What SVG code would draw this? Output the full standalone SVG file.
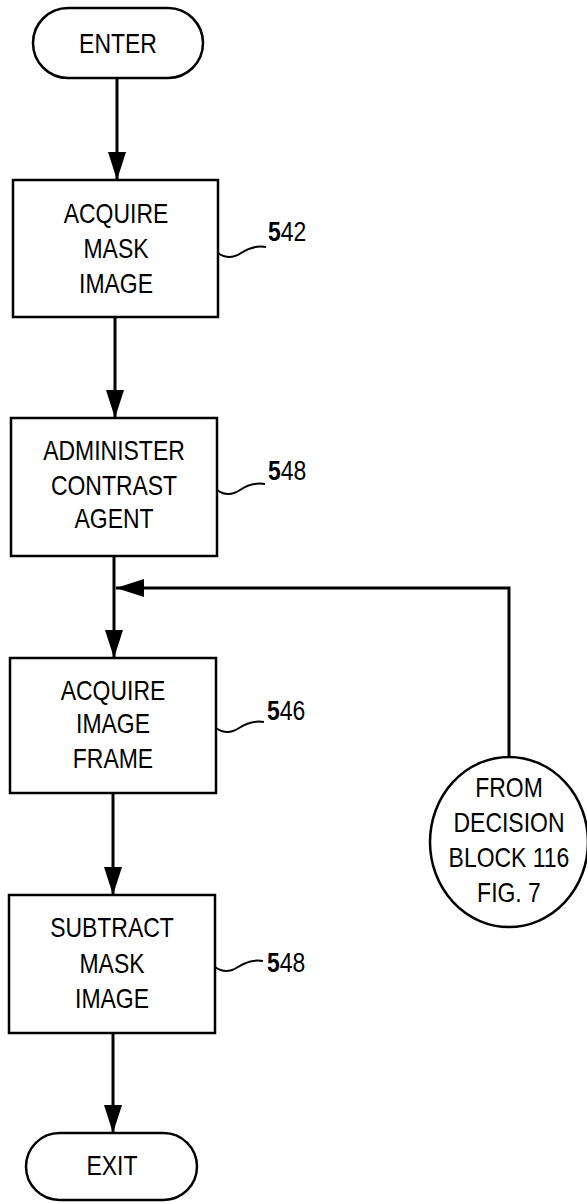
<svg xmlns="http://www.w3.org/2000/svg" width="587" height="1203" viewBox="0 0 587 1203">
<style>
.shape{fill:#fff;stroke:#000;stroke-width:2.5}
.conn{fill:none;stroke:#000;stroke-width:3}
.lead{fill:none;stroke:#000;stroke-width:2}
.t{font-family:"Liberation Sans",Arial,sans-serif;font-size:28px;fill:#000;text-anchor:middle}
.n{font-family:"Liberation Sans",Arial,sans-serif;font-size:28px;fill:#000;text-anchor:start}
</style>
<defs>
<marker id="ah" viewBox="0 0 28 18" refX="28" refY="9" markerWidth="28" markerHeight="18" markerUnits="userSpaceOnUse" orient="auto">
<path d="M0,0 L28,9 L0,18 z" fill="#000"/>
</marker>
</defs>
<rect width="587" height="1203" fill="#fff"/>
<g id="connectors">
<path class="conn" d="M117,78 V180" marker-end="url(#ah)"/>
<path class="conn" d="M115,317 V418" marker-end="url(#ah)"/>
<path class="conn" d="M114,556 V658" marker-end="url(#ah)"/>
<path class="conn" d="M113,793 V895" marker-end="url(#ah)"/>
<path class="conn" d="M113,1033 V1133" marker-end="url(#ah)"/>
<path class="conn" d="M509,757 V588 H116" marker-end="url(#ah)"/>
</g>
<g id="enter">
<rect class="shape" x="33" y="8" width="170" height="70" rx="35" ry="35"/>
<text class="t" transform="translate(118,53) scale(0.82,1)">ENTER</text>
</g>
<g id="acquire-mask">
<rect class="shape" x="13" y="180" width="205" height="137"/>
<text class="t" transform="translate(116,223) scale(0.82,1)">ACQUIRE</text>
<text class="t" transform="translate(116,258) scale(0.82,1)">MASK</text>
<text class="t" transform="translate(116,293) scale(0.82,1)">IMAGE</text>
<path class="lead" d="M218,253 q11,8 23,0 t25,-6"/>
<text class="n" transform="translate(268,241) scale(0.82,1)"><tspan font-weight="bold">5</tspan>42</text>
</g>
<g id="administer">
<rect class="shape" x="11" y="418" width="206" height="138"/>
<text class="t" transform="translate(114,460) scale(0.82,1)">ADMINISTER</text>
<text class="t" transform="translate(114,495) scale(0.82,1)">CONTRAST</text>
<text class="t" transform="translate(114,528) scale(0.82,1)">AGENT</text>
<path class="lead" d="M217,490 q11,8 23,0 t25,-6"/>
<text class="n" transform="translate(268,480) scale(0.82,1)"><tspan font-weight="bold">5</tspan>48</text>
</g>
<g id="acquire-frame">
<rect class="shape" x="10" y="658" width="206" height="135"/>
<text class="t" transform="translate(113,700) scale(0.82,1)">ACQUIRE</text>
<text class="t" transform="translate(113,733) scale(0.82,1)">IMAGE</text>
<text class="t" transform="translate(113,768) scale(0.82,1)">FRAME</text>
<path class="lead" d="M216,728 q11,8 23,0 t25,-6"/>
<text class="n" transform="translate(267,720) scale(0.82,1)"><tspan font-weight="bold">5</tspan>46</text>
</g>
<g id="subtract">
<rect class="shape" x="9" y="895" width="206" height="138"/>
<text class="t" transform="translate(112,937) scale(0.82,1)">SUBTRACT</text>
<text class="t" transform="translate(112,973) scale(0.82,1)">MASK</text>
<text class="t" transform="translate(112,1008) scale(0.82,1)">IMAGE</text>
<path class="lead" d="M215,967 q11,8 23,0 t25,-6"/>
<text class="n" transform="translate(267,972) scale(0.82,1)"><tspan font-weight="bold">5</tspan>48</text>
</g>
<g id="from-decision">
<ellipse class="shape" cx="509" cy="842" rx="79" ry="85"/>
<text class="t" transform="translate(509,797) scale(0.82,1)">FROM</text>
<text class="t" transform="translate(509,832) scale(0.82,1)">DECISION</text>
<text class="t" transform="translate(509,867) scale(0.82,1)">BLOCK 116</text>
<text class="t" transform="translate(509,902) scale(0.82,1)">FIG. 7</text>
</g>
<g id="exit">
<rect class="shape" x="26" y="1133" width="171" height="67" rx="33.5" ry="33.5"/>
<text class="t" transform="translate(112,1175) scale(0.82,1)">EXIT</text>
</g>
</svg>
